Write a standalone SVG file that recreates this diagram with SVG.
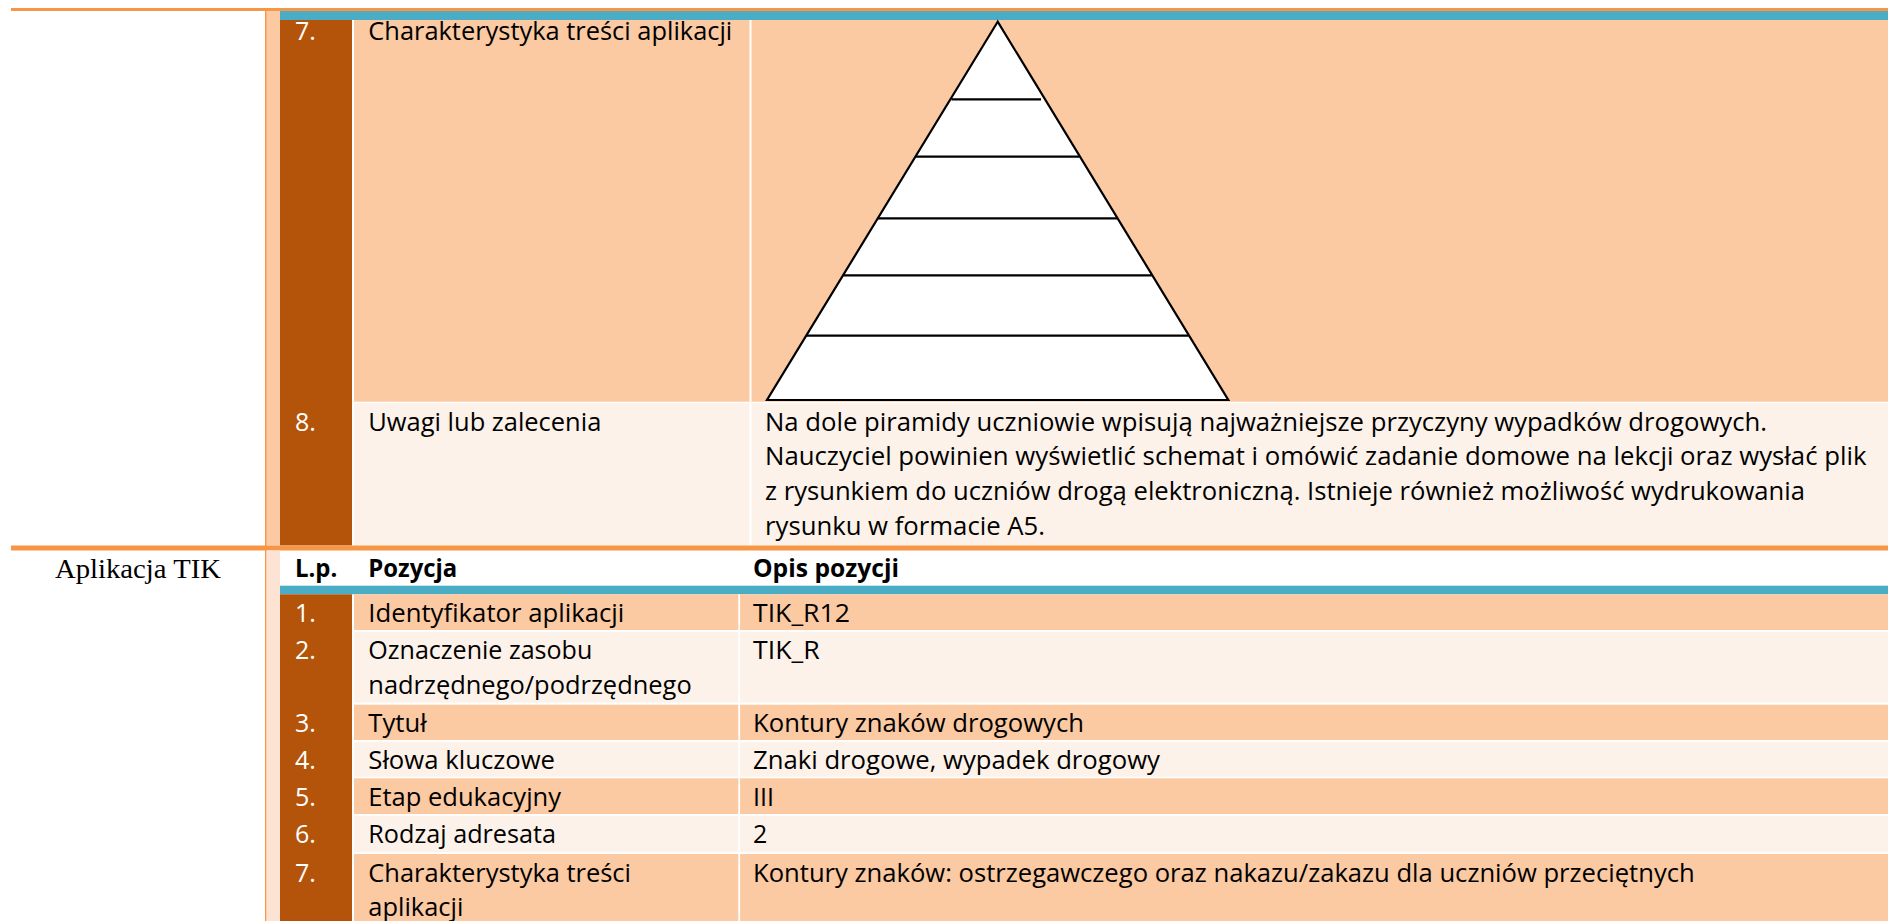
<svg xmlns="http://www.w3.org/2000/svg" width="1888" height="921" viewBox="0 0 1888 921">
<style>
.t{font-family:"Open Sans","Liberation Sans",sans-serif;font-size:25px;fill:#000}
.n{font-family:"Open Sans","Liberation Sans",sans-serif;font-size:25px;fill:#fff}
.b{font-weight:bold}
.lbl{font-family:"Liberation Serif","DejaVu Serif",serif;font-size:27px;fill:#000}
.peach{fill:#FBC9A2}
.cream{fill:#FDF2E9}
.brown{fill:#B4540A}
.blue{fill:#4BACC6}
.orange{fill:#F79646}
.white{fill:#FFFFFF}
.pyr{fill:#FFFFFF;stroke:#000;stroke-width:2.2;stroke-linejoin:miter}
.ln{stroke:#000;stroke-width:2.2}
</style>
<rect x="0" y="0" width="1888" height="921" fill="#FFFFFF"/>

<g id="top-table">
  <rect x="266.5" y="11" width="13.5" height="534.5" class="peach"/>
  <rect x="280" y="11" width="1608" height="9" class="blue"/>
  <rect x="280" y="20" width="72" height="525.5" class="brown"/>
  <rect x="354" y="20" width="1534" height="381.7" class="peach"/>
  <rect x="354" y="403.3" width="1534" height="142.2" class="cream"/>
  <rect x="749.5" y="20" width="2" height="525.5" class="white"/>
</g>

<g id="top-row7">
  <text x="295" y="40" class="n">7.</text>
  <text x="368.3" y="40" class="t" textLength="364" lengthAdjust="spacingAndGlyphs">Charakterystyka treści aplikacji</text>
</g>

<g id="pyramid">
  <polygon points="997.7,21.7 767,400 1228.3,400" class="pyr"/>
  <line x1="951.5" y1="99.3" x2="1041" y2="99.3" class="ln"/>
  <line x1="915.4" y1="156.7" x2="1079.5" y2="156.7" class="ln"/>
  <line x1="877.8" y1="218.3" x2="1117" y2="218.3" class="ln"/>
  <line x1="843.1" y1="275.3" x2="1151.8" y2="275.3" class="ln"/>
  <line x1="806.2" y1="335.7" x2="1188.6" y2="335.7" class="ln"/>
</g>

<g id="top-row8">
  <text x="295" y="430.7" class="n">8.</text>
  <text x="368.3" y="430.7" class="t" textLength="233" lengthAdjust="spacingAndGlyphs">Uwagi lub zalecenia</text>
  <text x="765" y="430.7" class="t" textLength="1002" lengthAdjust="spacingAndGlyphs">Na dole piramidy uczniowie wpisują najważniejsze przyczyny wypadków drogowych.</text>
  <text x="765" y="465.4" class="t" textLength="1101.5" lengthAdjust="spacingAndGlyphs">Nauczyciel powinien wyświetlić schemat i omówić zadanie domowe na lekcji oraz wysłać plik</text>
  <text x="765" y="500.1" class="t" textLength="1040" lengthAdjust="spacingAndGlyphs">z rysunkiem do uczniów drogą elektroniczną. Istnieje również możliwość wydrukowania</text>
  <text x="765" y="534.8" class="t" textLength="280" lengthAdjust="spacingAndGlyphs">rysunku w formacie A5.</text>
</g>

<g id="borders">
  <rect x="11" y="8" width="1877" height="3" class="orange"/>
  <rect x="11" y="545.5" width="1877" height="5" class="orange"/>
  <rect x="265" y="11" width="1.6" height="910" class="orange"/>
</g>

<g id="label">
  <text x="55" y="578" class="lbl" textLength="166" lengthAdjust="spacingAndGlyphs">Aplikacja TIK</text>
</g>

<g id="bottom-table">
  <rect x="266.6" y="550.5" width="13.4" height="370.5" fill="#FCE3D3"/>
  <rect x="280" y="585.7" width="1608" height="8.6" class="blue"/>
  <rect x="280" y="594.3" width="72" height="326.7" class="brown"/>
  <rect x="354" y="594.3" width="1534" height="35.7" class="peach"/>
  <rect x="354" y="631.7" width="1534" height="71" class="cream"/>
  <rect x="354" y="704.7" width="1534" height="35.3" class="peach"/>
  <rect x="354" y="741.7" width="1534" height="35" class="cream"/>
  <rect x="354" y="778.3" width="1534" height="35.7" class="peach"/>
  <rect x="354" y="815.7" width="1534" height="36.6" class="cream"/>
  <rect x="354" y="854" width="1534" height="67" class="peach"/>
  <rect x="738.3" y="594.3" width="1.8" height="326.7" class="white"/>
</g>

<g id="header">
  <text x="295" y="577.3" class="t b" textLength="42.3" lengthAdjust="spacingAndGlyphs">L.p.</text>
  <text x="368.3" y="577.3" class="t b" textLength="89" lengthAdjust="spacingAndGlyphs">Pozycja</text>
  <text x="753" y="577.3" class="t b" textLength="146" lengthAdjust="spacingAndGlyphs">Opis pozycji</text>
</g>

<g id="row1">
  <text x="295" y="621.9" class="n">1.</text>
  <text x="368.3" y="621.9" class="t" textLength="256" lengthAdjust="spacingAndGlyphs">Identyfikator aplikacji</text>
  <text x="753" y="621.9" class="t" textLength="97" lengthAdjust="spacingAndGlyphs">TIK_R12</text>
</g>
<g id="row2">
  <text x="295" y="659.3" class="n">2.</text>
  <text x="368.3" y="659.3" class="t" textLength="224" lengthAdjust="spacingAndGlyphs">Oznaczenie zasobu</text>
  <text x="368.3" y="694" class="t" textLength="323.4" lengthAdjust="spacingAndGlyphs">nadrzędnego/podrzędnego</text>
  <text x="753" y="659.3" class="t" textLength="66.7" lengthAdjust="spacingAndGlyphs">TIK_R</text>
</g>
<g id="row3">
  <text x="295" y="732.3" class="n">3.</text>
  <text x="368.3" y="732.3" class="t" textLength="58.4" lengthAdjust="spacingAndGlyphs">Tytuł</text>
  <text x="753" y="732.3" class="t" textLength="331" lengthAdjust="spacingAndGlyphs">Kontury znaków drogowych</text>
</g>
<g id="row4">
  <text x="295" y="769.3" class="n">4.</text>
  <text x="368.3" y="769.3" class="t" textLength="186.7" lengthAdjust="spacingAndGlyphs">Słowa kluczowe</text>
  <text x="753" y="769.3" class="t" textLength="407" lengthAdjust="spacingAndGlyphs">Znaki drogowe, wypadek drogowy</text>
</g>
<g id="row5">
  <text x="295" y="805.9" class="n">5.</text>
  <text x="368.3" y="805.9" class="t" textLength="192.7" lengthAdjust="spacingAndGlyphs">Etap edukacyjny</text>
  <text x="753" y="805.9" class="t" textLength="21" lengthAdjust="spacingAndGlyphs">III</text>
</g>
<g id="row6">
  <text x="295" y="843.3" class="n">6.</text>
  <text x="368.3" y="843.3" class="t" textLength="187.7" lengthAdjust="spacingAndGlyphs">Rodzaj adresata</text>
  <text x="753" y="843.3" class="t">2</text>
</g>
<g id="row7">
  <text x="295" y="881.6" class="n">7.</text>
  <text x="368.3" y="881.6" class="t" textLength="262.7" lengthAdjust="spacingAndGlyphs">Charakterystyka treści</text>
  <text x="368.3" y="916.3" class="t" textLength="95" lengthAdjust="spacingAndGlyphs">aplikacji</text>
  <text x="753" y="881.6" class="t" textLength="941.7" lengthAdjust="spacingAndGlyphs">Kontury znaków: ostrzegawczego oraz nakazu/zakazu dla uczniów przeciętnych</text>
</g>
</svg>
